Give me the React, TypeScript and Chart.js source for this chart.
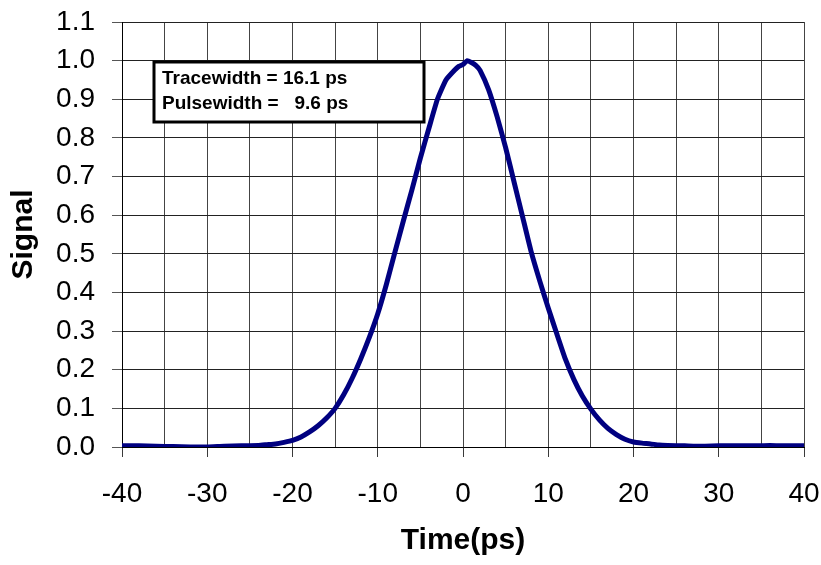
import React, { useEffect, useRef } from "react";
import { Chart, registerables } from "chart.js";

Chart.register(...registerables);

const timePs = [
  -40, -38, -36, -34, -32, -30, -28, -26, -24, -23, -22, -21, -20, -19, -18, -17,
  -16, -15, -14, -13, -12, -11, -10, -9, -8, -7, -6, -5, -4, -3, -2, -1, -0.5, 0, 0.5,
  1, 1.5, 2, 3, 4, 5, 6, 7, 8, 9, 10, 11, 12, 13, 14, 15, 16, 17, 18, 19, 20, 21, 22,
  23, 24, 26, 28, 30, 32, 34, 36, 38, 40,
];
const signal = [
  0.003, 0.003, 0.002, 0.001, 0.0, 0.0, 0.002, 0.003, 0.004, 0.006, 0.008, 0.012,
  0.017, 0.026, 0.039, 0.055, 0.075, 0.1, 0.135, 0.178, 0.228, 0.283, 0.345, 0.42,
  0.503, 0.585, 0.665, 0.748, 0.825, 0.9, 0.95, 0.975, 0.985, 0.99, 1.0, 0.995, 0.988,
  0.975, 0.925, 0.855, 0.775, 0.685, 0.595, 0.505, 0.43, 0.36, 0.293, 0.228, 0.175,
  0.132, 0.098, 0.07, 0.048, 0.032, 0.02, 0.013, 0.01, 0.008, 0.005, 0.004, 0.003,
  0.002, 0.003, 0.003, 0.003, 0.004, 0.003, 0.003,
];
const xMin = -40;
const xMax = 40;
const yMin = 0;
const yMax = 1.1;
const annotationLines = ["Tracewidth = 16.1 ps", "Pulsewidth =   9.6 ps"];
const xTitle = "Time(ps)";
const yTitle = "Signal";

const FONT = "'Liberation Sans', Arial, sans-serif";

const annotationPlugin = {
  id: "annotBox",
  afterDraw(chart: any) {
    const { ctx, chartArea } = chart;
    const x0 = chartArea.left + 32;
    const y0 = chartArea.top + 40;
    const w = 270;
    const h = 60;
    ctx.save();
    ctx.fillStyle = "#ffffff";
    ctx.fillRect(x0, y0, w, h);
    ctx.lineWidth = 3;
    ctx.strokeStyle = "#000000";
    ctx.strokeRect(x0, y0, w, h);
    ctx.fillStyle = "#000000";
    ctx.font = `bold 19px ${FONT}`;
    ctx.textBaseline = "alphabetic";
    ctx.textAlign = "left";
    ctx.fillText(annotationLines[0], x0 + 8, y0 + 21.5);
    ctx.fillText(annotationLines[1], x0 + 8, y0 + 46.5);
    ctx.restore();
  },
};

export default function App() {
  const ref = useRef<HTMLCanvasElement | null>(null);
  useEffect(() => {
    if (!ref.current) return;
    const points = timePs.map((t, i) => ({ x: t, y: signal[i] }));
    const chart = new Chart(ref.current, {
      type: "scatter",
      data: {
        datasets: [
          {
            data: points,
            showLine: true,
            borderColor: "#000080",
            backgroundColor: "#000080",
            borderWidth: 5,
            pointRadius: 0,
            tension: 0.15,
            borderCapStyle: "round",
            borderJoinStyle: "round",
          } as any,
        ],
      },
      options: {
        animation: false,
        responsive: false,
        devicePixelRatio: 1,
        layout: { padding: { top: 22, right: 17, left: 0, bottom: 0 } },
        plugins: {
          legend: { display: false },
          title: { display: false },
          tooltip: { enabled: false },
        },
        scales: {
          x: {
            type: "linear",
            min: xMin,
            max: xMax,
            afterFit: (s: any) => {
              s.height = 118;
              s.paddingLeft = 0;
              s.paddingRight = 0;
            },
            grid: {
              color: "#444",
              lineWidth: 1,
              tickLength: 10,
              tickColor: (c: any) =>
                c.tick && Math.round(c.tick.value) % 10 === 0 ? "#3a3a3a" : "rgba(0,0,0,0)",
            },
            border: { color: "#000", width: 1 },
            ticks: {
              stepSize: 5,
              autoSkip: false,
              maxRotation: 0,
              padding: 20,
              color: "#000",
              font: { family: FONT, size: 28 },
              callback: (v: any) => (Math.round(v) % 10 === 0 ? String(v) : ""),
            },
            title: {
              display: true,
              text: xTitle,
              color: "#000",
              font: { family: FONT, size: 30, weight: "bold" },
              padding: { top: 0, bottom: 6 },
            },
          },
          y: {
            type: "linear",
            min: yMin,
            max: yMax,
            afterFit: (s: any) => {
              s.width = 122;
              s.paddingTop = 0;
              s.paddingBottom = 0;
            },
            grid: {
              color: "#222",
              lineWidth: 1,
              tickLength: 10,
              tickColor: "#555",
            },
            border: { color: "#000", width: 1 },
            ticks: {
              stepSize: 0.1,
              padding: 17,
              color: "#000",
              font: { family: FONT, size: 28 },
              callback: (v: any) => Number(v).toFixed(1),
            },
            title: {
              display: true,
              text: yTitle,
              color: "#000",
              font: { family: FONT, size: 30, weight: "bold" },
              padding: { top: 6, bottom: 0 },
            },
          },
        },
      },
      plugins: [annotationPlugin],
    });
    return () => chart.destroy();
  }, []);
  return (
    <div style={{ position: "fixed", left: 0, top: 0, width: 821, height: 565, background: "#fff" }}>
      <canvas ref={ref} width={821} height={565} style={{ display: "block" }} />
    </div>
  );
}
